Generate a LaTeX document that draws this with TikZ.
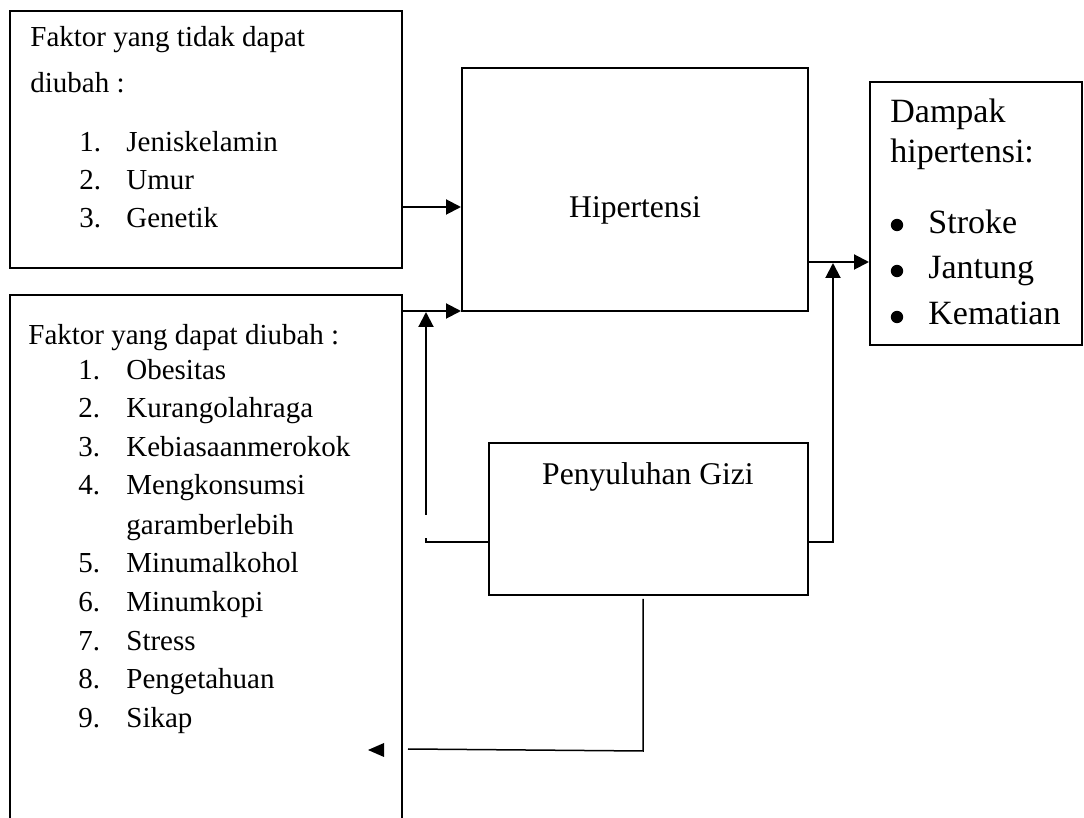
\documentclass[tikz,border=0pt]{standalone}
\usepackage{fontspec}
\setmainfont{Liberation Serif}
\usetikzlibrary{arrows.meta,fit}
\begin{document}
\begin{tikzpicture}[x=0.5pt,y=-0.5pt,
  box/.style={draw,line width=1pt,inner sep=0pt},
  lst/.style={anchor=base west,inner sep=0pt,font=\fontsize{14.5pt}{17pt}\selectfont},
  big/.style={anchor=base,inner sep=0pt,font=\fontsize{15.8pt}{19pt}\selectfont},
  dmp/.style={anchor=base west,inner sep=0pt,font=\fontsize{17pt}{20pt}\selectfont},
  dot/.style={circle,fill,inner sep=0pt,minimum size=6.2pt},
  conn/.style={line width=1pt},
  thin/.style={line width=0.75pt},
  arr/.style={conn,-{Triangle[length=7.5pt,width=7.5pt]}}]
\clip (0,0) rectangle (1084,818);
\fill[white] (0,0) rectangle (1084,818);

% boxes
\node[box,fit={(10,11)(402,268)}] (f1) {};
\node[box,fit={(10,295)(402,840)}] (f2) {};
\node[box,fit={(462,68)(808,311)}] (hip) {};
\node[box,fit={(870,82)(1082,345)}] (dmp) {};
\node[box,fit={(489,443)(808,595)}] (pen) {};

% box 1 text
\node[lst] (t1a) at (30,47) {Faktor yang tidak dapat};
\node[lst] (t1b) at (30,93) {diubah :};
\node[lst] (n11) at (79,152) {1.};
\node[lst] (i11) at (126,152) {Jeniskelamin};
\node[lst] (n12) at (79,190) {2.};
\node[lst] (i12) at (126,190) {Umur};
\node[lst] (n13) at (79,228) {3.};
\node[lst] (i13) at (126,228) {Genetik};

% box 2 text
\node[lst] (t2a) at (28,345) {Faktor yang dapat diubah :};
\node[lst] (n21) at (78,380) {1.};
\node[lst] (i21) at (126,380) {Obesitas};
\node[lst] (n22) at (78,418) {2.};
\node[lst] (i22) at (126,418) {Kurangolahraga};
\node[lst] (n23) at (78,457) {3.};
\node[lst] (i23) at (126,457) {Kebiasaanmerokok};
\node[lst] (n24) at (78,495) {4.};
\node[lst] (i24) at (126,495) {Mengkonsumsi};
\node[lst] (i24b) at (126,535) {garamberlebih};
\node[lst] (n25) at (78,573) {5.};
\node[lst] (i25) at (126,573) {Minumalkohol};
\node[lst] (n26) at (78,612) {6.};
\node[lst] (i26) at (126,612) {Minumkopi};
\node[lst] (n27) at (78,651) {7.};
\node[lst] (i27) at (126,651) {Stress};
\node[lst] (n28) at (78,689) {8.};
\node[lst] (i28) at (126,689) {Pengetahuan};
\node[lst] (n29) at (78,728) {9.};
\node[lst] (i29) at (126,728) {Sikap};

% central texts
\node[big] (thip) at (635,218) {Hipertensi};
\node[big] (tpen) at (648,485) {Penyuluhan Gizi};

% dampak text
\node[dmp] (d1) at (890,123) {Dampak};
\node[dmp] (d2) at (890,163) {hipertensi:};
\node[dot] (b1) at (897,225) {};
\node[dmp] (s1) at (928,234) {Stroke};
\node[dot] (b2) at (897,271) {};
\node[dmp] (s2) at (928,279) {Jantung};
\node[dot] (b3) at (897,317) {};
\node[dmp] (s3) at (928,325) {Kematian};

% connectors
\draw[arr] (f1.east |- 0,207) -- (hip.west |- 0,207);
\draw[arr] (f2.east |- 0,311) -- (hip.west |- 0,311);
\draw[arr] (hip.east |- 0,262) -- (dmp.west |- 0,262);

\coordinate (rc) at (833,542);
\coordinate (rtip) at (833,263);
\draw[arr] (pen.east |- rc) -- (rc) -- (rtip);

\coordinate (lc) at (426,542);
\coordinate (lstub) at (426,538);
\coordinate (lgap) at (426,515);
\coordinate (ltip) at (426,312);
\draw[conn] (pen.west |- lc) -- (lc) -- (lstub);
\draw[arr] (lgap) -- (ltip);

\coordinate (bs) at (643,599);
\coordinate (bc) at (643,751);
\coordinate (be) at (408,749);
\draw[thin] (bs) -- (bc) -- (be);
\coordinate (btip) at (368,750);
\fill (btip) -- (384,743) -- (384,757) -- cycle;
\end{tikzpicture}
\end{document}
